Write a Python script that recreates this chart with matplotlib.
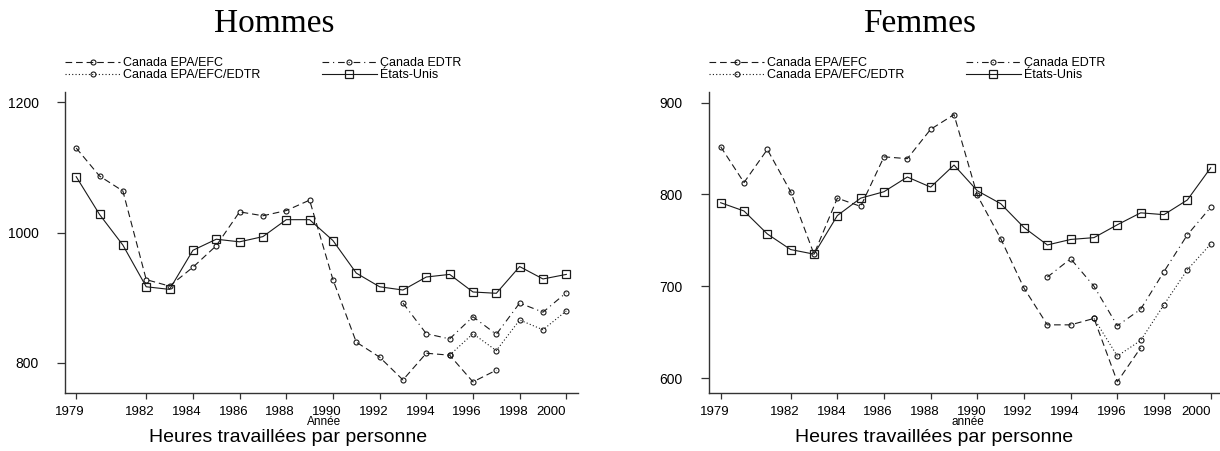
import matplotlib
matplotlib.use('Agg')
import matplotlib.pyplot as plt
from matplotlib.transforms import ScaledTranslation

# ---------------- data ----------------
years = list(range(1979, 2001))
xtick_years = [1979, 1982, 1984, 1986, 1988, 1990, 1992, 1994, 1996, 1998, 2000]

years_epa = list(range(1979, 1998))
years_edtr = list(range(1993, 2001))
years_comb = list(range(1995, 2001))

# Hommes
h_us = [1086, 1028, 981, 917, 913, 973, 990, 986, 994, 1020, 1020, 988,
        938, 917, 912, 932, 936, 909, 907, 948, 929, 936]
h_epa = [1130, 1087, 1064, 928, 918, 947, 980, 1032, 1026, 1034, 1050, 928,
         832, 809, 774, 815, 812, 771, 789]
h_edtr = [892, 845, 837, 871, 844, 892, 878, 908]
h_comb = [812, 845, 819, 866, 851, 880]

# Femmes
f_us = [791, 782, 757, 740, 735, 777, 796, 803, 819, 808, 832, 804,
        790, 764, 745, 751, 753, 767, 780, 778, 794, 829]
f_epa = [852, 813, 849, 803, 735, 796, 787, 841, 839, 871, 887, 799,
         752, 698, 658, 658, 665, 596, 633]
f_edtr = [710, 730, 700, 657, 675, 716, 756, 786]
f_comb = [665, 624, 641, 680, 718, 746]

labels = ["Canada EPA/EFC", "Canada EPA/EFC/EDTR", "Canada EDTR", "États-Unis"]
titles = ["Hommes", "Femmes"]
xlabels = ["Année", "année"]
caption = "Heures travaillées par personne"
yticks_h = [800, 1000, 1200]
yticks_f = [600, 700, 800, 900]

# ---------------- figure ----------------
W, H = 1220, 451
fig = plt.figure(figsize=(W / 100, H / 100), dpi=100)
plt.rcParams['font.family'] = ['Liberation Sans', 'DejaVu Sans']

def fx(px):
    return px / W

def fy(py):
    return 1 - py / H

LC = '#1a1a1a'
LW = 0.8

def panel(left_px, right_px, xlim, ylim, us, epa, edtr, comb, yticks, title, xl, tcx, ccx):
    ax = fig.add_axes([fx(left_px), fy(392.7), fx(right_px - left_px), (392.7 - 92) / H])
    ln_epa, = ax.plot(years_epa, epa, linestyle=(0, (6, 3.5)), color=LC, lw=LW,
                      marker='o', ms=3.6, mfc='none', mec=LC, mew=0.8)
    ln_comb, = ax.plot(years_comb, comb, linestyle=(0, (1, 2)), color=LC, lw=LW,
                       marker='o', ms=3.6, mfc='none', mec=LC, mew=0.8)
    ln_edtr, = ax.plot(years_edtr, edtr, linestyle=(0, (6, 3.5, 1, 3.5)), color=LC, lw=LW,
                       marker='o', ms=3.6, mfc='none', mec=LC, mew=0.8)
    ln_us, = ax.plot(years, us, linestyle='-', color=LC, lw=LW,
                     marker='s', ms=5.2, mfc='none', mec=LC, mew=0.9)
    ax.set_xlim(*xlim)
    ax.set_ylim(*ylim)
    ax.set_xticks(xtick_years)
    ax.set_yticks(yticks)
    for s in ['top', 'right']:
        ax.spines[s].set_visible(False)
    for s in ['left', 'bottom']:
        ax.spines[s].set_color('#333333')
        ax.spines[s].set_linewidth(1.0)
    ax.tick_params(axis='x', direction='out', length=4.5, width=0.9, color='#333333',
                   labelsize=9.5, pad=5)
    ax.tick_params(axis='y', direction='out', length=6, width=0.9, color='#333333',
                   labelsize=10, pad=13)
    # tick labels sit slightly left of their ticks in the reference
    for yr, tick in zip(xtick_years, ax.xaxis.get_major_ticks()):
        dx = -15 if yr == 2000 else -6
        tick.label1.set_transform(tick.label1.get_transform() +
                                  ScaledTranslation(dx / 100, 0, fig.dpi_scale_trans))
    ax.set_facecolor('white')
    ax.legend([ln_epa, ln_comb, ln_edtr, ln_us], labels, ncol=2,
              loc='upper left', bbox_to_anchor=(fx(left_px), fy(57.5)),
              bbox_transform=fig.transFigure, frameon=False, fontsize=9,
              handlelength=4.4, handletextpad=0.25, columnspacing=4.9,
              labelspacing=-0.05, borderpad=0, borderaxespad=0, numpoints=1)
    fig.text(fx(tcx), fy(24), title, ha='center', va='center', fontsize=24,
             family='Liberation Serif')
    fig.text(fx((left_px + right_px) / 2 + 3), fy(422), xl, ha='center', va='center',
             fontsize=8.5)
    fig.text(fx(ccx), fy(438), caption, ha='center', va='center', fontsize=14)
    return ax

panel(65, 578, (1978.52, 2000.5), (754.4, 1216), h_us, h_epa, h_edtr, h_comb,
      yticks_h, titles[0], xlabels[0], 274, 288)
panel(709, 1220, (1978.5, 2000.4), (584.1, 911.6), f_us, f_epa, f_edtr, f_comb,
      yticks_f, titles[1], xlabels[1], 920, 934)

fig.savefig('out.png', dpi=100, facecolor='white')
